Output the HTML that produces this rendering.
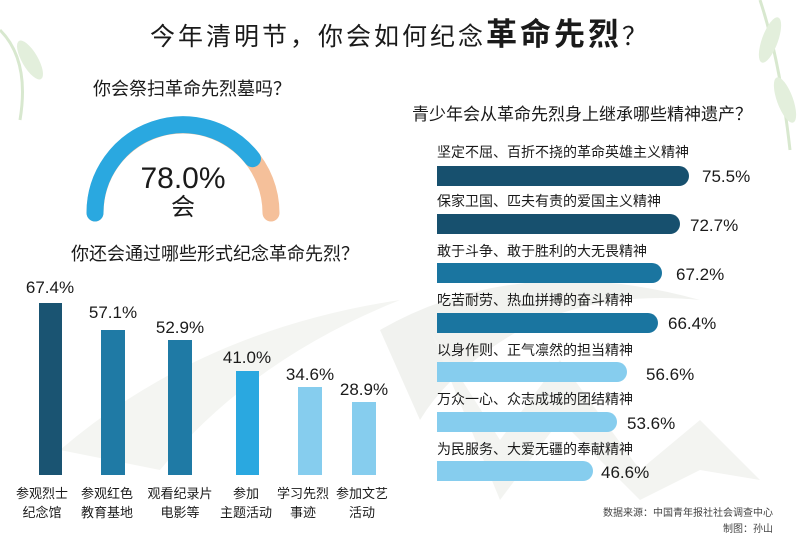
<!DOCTYPE html>
<html><head><meta charset="utf-8"><style>
body{margin:0;background:#fff;}
svg{display:block;}
text{font-family:"Liberation Sans","Noto Sans CJK SC",sans-serif;fill:#1a1a1a;}
</style></head><body>
<svg width="800" height="551" viewBox="0 0 800 551" xmlns="http://www.w3.org/2000/svg">
<rect width="800" height="551" fill="#fff"/>
<path d="M380 330 Q520 250 700 300 Q600 290 520 330 Q450 370 420 420 Z" fill="#f1f2ef"/>
<path d="M430 330 L500 440 L560 360 L640 470 L700 420 L760 480 L700 470 L640 500 L560 420 L500 500 Z" fill="#f3f4f1"/>
<path d="M60 450 Q200 330 400 300 Q250 360 160 470 Z" fill="#f4f5f2"/>
<path d="M0 30 Q30 60 20 120" stroke="#d8e8cf" stroke-width="3" fill="none"/>
<ellipse cx="30" cy="60" rx="8" ry="22" fill="#e3efdc" transform="rotate(-30 30 60)"/>
<path d="M760 0 Q780 60 790 150" stroke="#d8e8cf" stroke-width="3" fill="none"/>
<ellipse cx="770" cy="40" rx="8" ry="24" fill="#e3efdc" transform="rotate(20 770 40)"/>
<ellipse cx="785" cy="100" rx="8" ry="24" fill="#e3efdc" transform="rotate(-20 785 100)"/>

<text x="400" y="45" text-anchor="middle" font-size="25" letter-spacing="3">今年清明节，你会如何纪念<tspan font-size="31" font-weight="bold">革命先烈</tspan>？</text>

<text x="192" y="95" text-anchor="middle" font-size="18">你会祭扫革命先烈墓吗？</text>
<path d="M95 213 A88 88 0 0 1 271 213" stroke="#f5c09a" stroke-width="17" fill="none" stroke-linecap="round"/>
<path d="M95 213 A88 88 0 0 1 252.5 158.7" stroke="#2aa8e0" stroke-width="17" fill="none" stroke-linecap="round"/>
<text x="183" y="188" text-anchor="middle" font-size="30">78.0%</text>
<text x="183" y="215" text-anchor="middle" font-size="24">会</text>

<text x="215" y="260" text-anchor="middle" font-size="18">你还会通过哪些形式纪念革命先烈？</text>
<g font-size="17" text-anchor="middle">
<rect x="39" y="303" width="23" height="172" fill="#1a5472"/><text x="50" y="293">67.4%</text>
<rect x="101" y="330" width="24" height="145" fill="#1f7aa5"/><text x="113" y="318">57.1%</text>
<rect x="168" y="340" width="24" height="135" fill="#1f7aa5"/><text x="180" y="333">52.9%</text>
<rect x="236" y="371" width="23" height="104" fill="#2aa8e0"/><text x="247" y="363">41.0%</text>
<rect x="298" y="387" width="24" height="88" fill="#86cdee"/><text x="310" y="380">34.6%</text>
<rect x="352" y="402" width="24" height="73" fill="#86cdee"/><text x="364" y="395">28.9%</text>
</g>
<g font-size="13" text-anchor="middle">
<text x="42" y="498">参观烈士</text><text x="42" y="517">纪念馆</text>
<text x="107" y="498">参观红色</text><text x="107" y="517">教育基地</text>
<text x="180" y="498">观看纪录片</text><text x="180" y="517">电影等</text>
<text x="246" y="498">参加</text><text x="246" y="517">主题活动</text>
<text x="303" y="498">学习先烈</text><text x="303" y="517">事迹</text>
<text x="362" y="498">参加文艺</text><text x="362" y="517">活动</text>
</g>

<text x="412" y="120" font-size="17">青少年会从革命先烈身上继承哪些精神遗产？</text>
<g font-size="14">
<text x="437" y="157">坚定不屈、百折不挠的革命英雄主义精神</text>
<text x="437" y="206">保家卫国、匹夫有责的爱国主义精神</text>
<text x="437" y="256">敢于斗争、敢于胜利的大无畏精神</text>
<text x="437" y="305">吃苦耐劳、热血拼搏的奋斗精神</text>
<text x="437" y="355">以身作则、正气凛然的担当精神</text>
<text x="437" y="404">万众一心、众志成城的团结精神</text>
<text x="437" y="454">为民服务、大爱无疆的奉献精神</text>
</g>
<g>
<path d="M437 166 H679 A10 10 0 0 1 679 186 H437 Z" fill="#17506e"/>
<path d="M437 214 H670 A10 10 0 0 1 670 234 H437 Z" fill="#17506e"/>
<path d="M437 263 H652 A10 10 0 0 1 652 283 H437 Z" fill="#1a75a0"/>
<path d="M437 313 H648 A10 10 0 0 1 648 333 H437 Z" fill="#1a75a0"/>
<path d="M437 362 H617 A10 10 0 0 1 617 382 H437 Z" fill="#86cdee"/>
<path d="M437 412 H607 A10 10 0 0 1 607 432 H437 Z" fill="#86cdee"/>
<path d="M437 461 H583 A10 10 0 0 1 583 481 H437 Z" fill="#86cdee"/>
</g>
<g font-size="17">
<text x="702" y="182">75.5%</text>
<text x="690" y="231">72.7%</text>
<text x="676" y="280">67.2%</text>
<text x="668" y="329">66.4%</text>
<text x="646" y="380">56.6%</text>
<text x="627" y="429">53.6%</text>
<text x="601" y="478">46.6%</text>
</g>
<g font-size="10" text-anchor="end">
<text x="773" y="516" style="fill:#444">数据来源：中国青年报社社会调查中心</text>
<text x="773" y="532" style="fill:#444">制图：孙山</text>
</g>
</svg>
</body></html>
